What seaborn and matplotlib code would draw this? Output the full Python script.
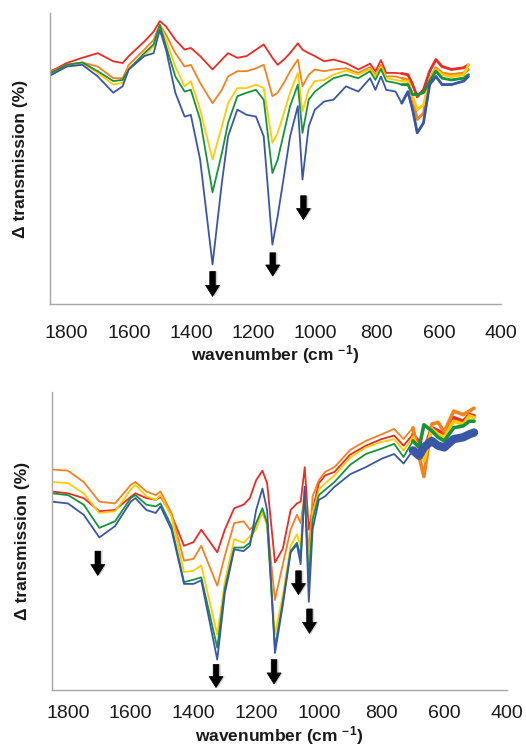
import numpy as np
import pandas as pd
import matplotlib
matplotlib.use("Agg")
import matplotlib.pyplot as plt
import matplotlib.transforms as mtransforms
import seaborn as sns

# ---------------- data ----------------
SERIES = ["red", "orange", "yellow", "green", "blue"]
COLORS = {"red": "#EC2B23", "orange": "#F58220", "yellow": "#FFCB05",
          "green": "#16933C", "blue": "#3A57A7"}

# top panel
wn_top = [1855, 1800, 1750, 1700, 1650, 1620, 1600, 1550, 1520, 1500,
          1480, 1450, 1420, 1400, 1370, 1330, 1300, 1280, 1250, 1220,
          1190, 1165, 1137, 1120, 1100, 1080, 1055, 1040, 1020, 1000,
          970, 940, 900, 860, 822, 805, 787, 770, 740, 720,
          700, 685, 670, 650, 630, 610, 590, 560, 520, 505]
top_red = [3.99, 4.14, 4.23, 4.31, 4.17, 4.14, 4.26, 4.51, 4.68, 4.86,
           4.77, 4.54, 4.37, 4.40, 4.26, 4.03, 4.20, 4.31, 4.23, 4.26,
           4.37, 4.46, 4.23, 4.11, 4.20, 4.31, 4.48, 4.37, 4.31, 4.26,
           4.17, 4.20, 4.14, 4.03, 4.13, 4.00, 4.19, 3.97, 3.97, 3.96,
           3.94, 3.77, 3.56, 3.68, 4.00, 4.20, 4.08, 4.03, 4.06, 4.11]
top_orange = [3.98, 4.11, 4.15, 4.08, 3.88, 3.88, 4.11, 4.37, 4.54, 4.80,
              4.63, 4.31, 4.08, 4.11, 3.80, 3.45, 3.68, 3.91, 4.00, 4.00,
              4.05, 4.11, 3.57, 3.63, 3.80, 4.00, 4.20, 3.74, 3.94, 4.03,
              4.00, 4.03, 4.05, 3.97, 4.07, 3.94, 4.11, 3.91, 3.91, 3.88,
              3.85, 3.54, 3.17, 3.28, 3.85, 4.06, 3.97, 3.94, 3.97, 4.03]
top_yellow = [3.94, 4.08, 4.14, 3.97, 3.77, 3.80, 4.06, 4.26, 4.43, 4.80,
              4.54, 4.08, 3.74, 3.83, 3.34, 2.48, 3.05, 3.45, 3.71, 3.71,
              3.77, 3.71, 2.77, 2.94, 3.28, 3.63, 3.97, 3.31, 3.68, 3.83,
              3.85, 3.94, 4.01, 3.94, 4.04, 3.91, 4.08, 3.88, 3.85, 3.83,
              3.83, 3.57, 3.34, 3.42, 3.85, 4.03, 3.94, 3.91, 3.94, 4.11]
top_green = [3.96, 4.11, 4.15, 4.00, 3.83, 3.85, 4.03, 4.31, 4.46, 4.80,
             4.43, 3.91, 3.65, 3.68, 3.17, 1.92, 2.59, 3.11, 3.57, 3.63,
             3.68, 3.51, 2.25, 2.48, 2.94, 3.40, 3.77, 2.94, 3.51, 3.65,
             3.77, 3.88, 3.94, 3.88, 4.00, 3.85, 4.04, 3.83, 3.80, 3.77,
             3.77, 3.60, 3.60, 3.63, 3.83, 4.00, 3.88, 3.85, 3.88, 3.94]
top_blue = [3.92, 4.08, 4.11, 3.91, 3.63, 3.74, 4.03, 4.26, 4.31, 4.71,
            4.37, 3.63, 3.22, 3.25, 2.48, 0.68, 2.08, 2.88, 3.34, 3.25,
            3.22, 2.88, 1.02, 1.51, 2.19, 2.88, 3.40, 2.14, 3.05, 3.34,
            3.48, 3.51, 3.74, 3.65, 3.88, 3.68, 3.91, 3.68, 3.65, 3.45,
            3.65, 3.34, 2.94, 3.11, 3.77, 3.91, 3.77, 3.77, 3.83, 3.91]
# arrows: (wavenumber, start, tip)
top_arrows = [(1330, 0.56, 0.13), (1136, 0.88, 0.48), (1037, 1.86, 1.45)]

# bottom panel
wn_bot = [1851, 1800, 1750, 1700, 1650, 1600, 1585, 1550, 1520, 1505,
          1470, 1430, 1400, 1375, 1324, 1300, 1270, 1240, 1220, 1200,
          1180, 1165, 1140, 1115, 1090, 1070, 1058, 1045, 1032, 1020,
          1000, 980, 950, 900, 850, 800, 760, 730, 700, 680,
          665, 640, 620, 600, 570, 540, 520, 505]
bot_red = [3.33, 3.30, 3.22, 3.00, 3.02, 3.24, 3.30, 3.22, 3.19, 3.24,
           2.94, 2.42, 2.48, 2.69, 2.31, 2.69, 3.05, 3.11, 3.22, 3.52,
           3.68, 3.47, 2.14, 2.37, 3.02, 3.13, 3.16, 3.74, 2.69, 3.02,
           3.47, 3.60, 3.66, 3.95, 4.10, 4.21, 4.27, 4.10, 4.29, 4.16,
           4.02, 4.40, 4.35, 4.29, 4.57, 4.51, 4.62, 4.60]
bot_orange = [3.70, 3.68, 3.49, 3.16, 3.13, 3.44, 3.49, 3.33, 3.27, 3.33,
              2.97, 2.17, 2.20, 2.42, 1.75, 2.25, 2.80, 2.83, 2.69, 2.80,
              2.97, 2.80, 1.51, 2.11, 2.69, 2.94, 2.80, 3.30, 2.28, 3.25,
              3.52, 3.66, 3.74, 4.03, 4.18, 4.29, 4.38, 4.21, 4.40, 3.91,
              3.58, 4.46, 4.49, 4.33, 4.68, 4.62, 4.68, 4.73]
bot_yellow = [3.49, 3.47, 3.30, 2.97, 3.00, 3.36, 3.44, 3.25, 3.19, 3.27,
              2.91, 1.98, 2.00, 2.09, 0.93, 1.81, 2.53, 2.47, 2.58, 2.69,
              3.00, 2.75, 0.93, 1.59, 2.42, 2.61, 2.42, 3.36, 2.03, 2.97,
              3.36, 3.47, 3.60, 3.90, 4.07, 4.16, 4.21, 4.02, 4.24, 4.02,
              3.85, 4.38, 4.29, 4.24, 4.51, 4.46, 4.60, 4.57]
bot_green = [3.30, 3.27, 3.11, 2.72, 2.83, 3.22, 3.27, 3.11, 3.08, 3.13,
             2.75, 1.81, 1.85, 1.89, 0.71, 1.70, 2.39, 2.39, 2.47, 2.80,
             3.05, 2.80, 0.71, 1.48, 2.33, 2.47, 2.25, 3.36, 1.81, 2.86,
             3.27, 3.36, 3.49, 3.78, 3.96, 4.05, 4.13, 3.91, 4.18, 4.07,
             4.45, 4.35, 4.24, 4.18, 4.40, 4.43, 4.51, 4.51]
bot_blue = [3.16, 3.13, 2.94, 2.56, 2.75, 3.16, 3.22, 3.02, 2.97, 3.08,
            2.69, 1.78, 1.78, 1.84, 0.51, 1.62, 2.36, 2.33, 2.42, 3.02,
            3.38, 3.02, 0.62, 1.42, 2.31, 2.44, 2.11, 3.41, 1.48, 2.69,
            3.19, 3.25, 3.41, 3.62, 3.74, 3.88, 3.96, 3.80, 4.02, 3.93,
            4.07, 4.18, 4.10, 4.07, 4.21, 4.24, 4.29, 4.32]
bot_arrows = [(1705, 2.33, 1.92), (1328, 0.43, 0.04), (1143, 0.51, 0.10),
              (1065, 2.00, 1.60), (1030, 1.36, 0.95)]

x_ticks = [1800, 1600, 1400, 1200, 1000, 800, 600, 400]
y_ticks = [0, 1, 2, 3, 4, 5]

# ---------------- style ----------------
sns.set_style("white")
plt.rcParams["font.family"] = ["Liberation Sans", "DejaVu Sans"]
plt.rcParams["mathtext.default"] = "regular"


def long_df(wn, series):
    rows = []
    for name, vals in series.items():
        for w, v in zip(wn, vals):
            rows.append((w, v, name))
    return pd.DataFrame(rows, columns=["wn", "val", "series"])


fig = plt.figure(figsize=(5.26, 7.5), dpi=100)
ax_top = fig.add_axes([50 / 526, 1 - 304 / 750, 451 / 526, 291 / 750])
ax_bot = fig.add_axes([52 / 526, 1 - 690 / 750, 455 / 526, 298 / 750])

panels = [
    (ax_top, wn_top, {"red": top_red, "orange": top_orange, "yellow": top_yellow,
                      "green": top_green, "blue": top_blue}, top_arrows, 1854),
    (ax_bot, wn_bot, {"red": bot_red, "orange": bot_orange, "yellow": bot_yellow,
                      "green": bot_green, "blue": bot_blue}, bot_arrows, 1851),
]

for ax, wn, series, arrows, xleft in panels:
    df = long_df(wn, series)
    noisy = df[df["wn"] <= 720]
    for name in SERIES:
        sub = df[df["series"] == name]
        sns.lineplot(data=sub, x="wn", y="val", color=COLORS[name],
                     estimator=None, sort=False, linewidth=1.3, ax=ax)
        nsub = noisy[noisy["series"] == name]
        if ax is ax_top:
            lw = 2.0
        else:
            lw = 6.0 if name == "blue" else 2.6
        sns.lineplot(data=nsub, x="wn", y="val", color=COLORS[name],
                     estimator=None, sort=False, linewidth=lw, ax=ax)

    shadow = mtransforms.offset_copy(ax.transData, fig=fig, x=2.0, y=0, units="dots")
    for w, y0, y1 in arrows:
        ax.annotate("", xy=(w, y1), xytext=(w, y0), xycoords=shadow, textcoords=shadow,
                    arrowprops=dict(arrowstyle="simple,head_length=0.8,head_width=1.0,tail_width=0.4",
                                    fc="#cfcfcf", ec="none", mutation_scale=10,
                                    shrinkA=0, shrinkB=0))
        ax.annotate("", xy=(w, y1), xytext=(w, y0),
                    arrowprops=dict(arrowstyle="simple,head_length=0.8,head_width=1.0,tail_width=0.4",
                                    fc="black", ec="black", lw=0.5, mutation_scale=10,
                                    shrinkA=0, shrinkB=0))

    ax.set_xlim(xleft, 400)
    ax.set_ylim(0, 5)
    ax.set_xticks(x_ticks)
    ax.set_xticklabels([str(t) for t in x_ticks])
    ax.set_yticks(y_ticks)
    ax.set_yticklabels([])
    for side in ["top", "right"]:
        ax.spines[side].set_visible(False)
    for side in ["left", "bottom"]:
        ax.spines[side].set_color("#a6a6a6")
        ax.spines[side].set_linewidth(1.0)
    ax.tick_params(axis="x", direction="out", length=5, width=1, color="#a6a6a6",
                   pad=10 if ax is ax_top else 6, labelsize=14, labelcolor="#1a1a1a")
    ax.tick_params(axis="y", direction="out", length=5, width=1, color="#a6a6a6",
                   labelleft=False)
    ax.set_xlabel("wavenumber (cm $^{-1}$)", fontsize=12.5, fontweight="bold",
                  labelpad=1, color="#1a1a1a")
    ax.set_ylabel("Δ transmission (%)", fontsize=12.5, fontweight="bold",
                  labelpad=16, color="#1a1a1a")

fig.savefig("out.png", dpi=100)
